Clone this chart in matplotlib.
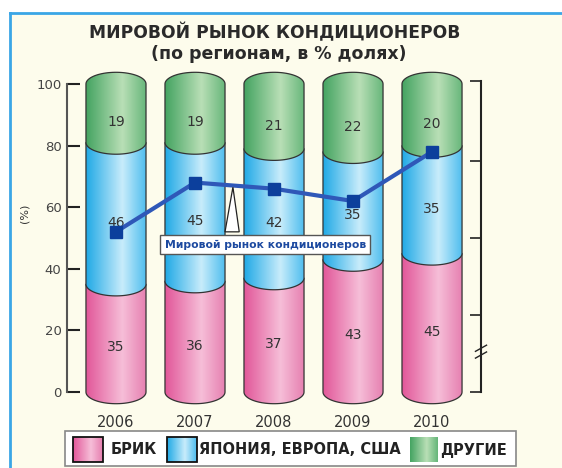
import matplotlib.pyplot as plt
from matplotlib.patches import Rectangle, Polygon, PathPatch
from matplotlib.path import Path
from matplotlib.colors import LinearSegmentedColormap
import numpy as np

# data
years = ['2006', '2007', '2008', '2009', '2010']
brik = [35, 36, 37, 43, 45]
jes = [46, 45, 42, 35, 35]
other = [19, 19, 21, 22, 20]
market = [52, 68, 66, 62, 78]   # world market line, read on the left scale
series_names = ['БРИК', 'ЯПОНИЯ, ЕВРОПА, США', 'ДРУГИЕ']
line_name = 'Мировой рынок кондиционеров'

# style
W, H = 562, 468
BG = '#fdfcec'
BORDER = '#3aa6e6'
grads = [
    ['#e2589a', '#f6bed8', '#e67fb0'],   # pink
    ['#22aae6', '#c8ecfb', '#4dbdee'],   # blue
    ['#45a462', '#b9dfb6', '#66b67a'],   # green
]
EDGE = '#333333'
BAR_W = 0.38      # half width in data units
ELL_H = 3.8       # half height of the cylinder ellipse
FONT = 'DejaVu Sans'
Y0, Y1 = -6, 106  # axis range incl. room for cylinder caps
PPU = 3.08        # pixels per percent

fig = plt.figure(figsize=(W / 100, H / 100), dpi=100)
fig.patch.set_facecolor('white')


def px(x0, y0, x1, y1):
    # pixel box -> figure fraction [left, bottom, width, height]
    return [x0 / W, 1 - y1 / H, (x1 - x0) / W, (y1 - y0) / H]


# background panel
bg = fig.add_axes([0, 0, 1, 1], zorder=0)
bg.set_xlim(0, W)
bg.set_ylim(H, 0)
bg.axis('off')
bg.add_patch(Rectangle((10, 13), W - 10, H - 13, facecolor=BG, edgecolor='none'))
bg.plot([10, 10], [13, H], color=BORDER, lw=2)
bg.plot([10, W], [13, 13], color=BORDER, lw=2)
bg.text(275, 33, 'МИРОВОЙ РЫНОК КОНДИЦИОНЕРОВ', ha='center', va='center',
        fontsize=12.3, fontweight='bold', color='#2a2a2a', family=FONT)
bg.text(279, 54, '(по регионам, в % долях)', ha='center', va='center',
        fontsize=12.5, fontweight='bold', color='#2a2a2a', family=FONT)
bg.text(24, 213, '(%)', ha='center', va='center', rotation=90,
        fontsize=8, color='#333333', family=FONT)

# main axes: 0..100 maps to pixel 392..84, spine at x=67 and x=481
ax = fig.add_axes(px(67, 392 - Y1 * PPU, 481, 392 - Y0 * PPU), zorder=1)
ax.set_facecolor('none')


def cyl_path(c, yb, yt, top):
    t = np.linspace(0, np.pi, 40)
    verts = [(c - BAR_W, yb), (c - BAR_W, yt)]
    if top:
        verts += list(zip(c - BAR_W * np.cos(t), yt + ELL_H * np.sin(t)))
    verts += [(c + BAR_W, yt), (c + BAR_W, yb)]
    verts += list(zip(c + BAR_W * np.cos(t), yb - ELL_H * np.sin(t)))
    verts.append(verts[0])
    return Path(verts, closed=True)


layers = [brik, jes, other]
grad = np.linspace(0, 1, 64).reshape(1, -1)
z = 2
for i in range(len(years)):
    base = 0
    for k, vals in enumerate(layers):
        yb, yt = base, base + vals[i]
        top = k == len(layers) - 1
        path = cyl_path(i, yb, yt, top)
        cmap = LinearSegmentedColormap.from_list('g', [(0, grads[k][0]), (0.6, grads[k][1]), (1, grads[k][2])])
        im = ax.imshow(grad, cmap=cmap, aspect='auto', interpolation='bilinear',
                       extent=[i - BAR_W, i + BAR_W, yb - ELL_H, yt + ELL_H], zorder=z)
        clip = PathPatch(path, transform=ax.transData, facecolor='none', edgecolor='none')
        im.set_clip_path(clip)
        ax.add_patch(PathPatch(path, facecolor='none', edgecolor=EDGE, lw=0.9,
                               zorder=z + 0.1, clip_on=False))
        ax.text(i, (yb + yt) / 2 - 3, str(vals[i]), ha='center', va='center',
                fontsize=10, color='#333333', family=FONT, zorder=z + 0.2)
        base = yt
        z += 1

ax.set_xlim(-0.62, 4.62)
ax.set_ylim(Y0, Y1)

# world market line
ax.plot(range(len(years)), market, color='#2f58b8', lw=3, zorder=40,
        marker='s', markersize=9, markerfacecolor='#0c3f9c', markeredgecolor='#0c3f9c')

# callout
ax.add_patch(Polygon([(1.38, 52.0), (1.48, 66.5), (1.56, 52.0)], closed=True,
                     facecolor='white', edgecolor='#222222', lw=0.9, zorder=41))
ax.text(1.89, 47.8, line_name, ha='center', va='center', fontsize=7.8,
        fontweight='bold', color='#1d4aa0', family=FONT, zorder=42,
        bbox=dict(boxstyle='square,pad=0.4', facecolor='white', edgecolor='#555555', lw=1))

# left axis
ax.set_yticks([0, 20, 40, 60, 80, 100])
ax.tick_params(axis='y', direction='in', length=9, width=1.5, color='#222222',
               labelsize=9.5, labelcolor='#444444', pad=4)
ax.set_xticks(range(len(years)))
ax.set_xticklabels(years)
ax.tick_params(axis='x', length=0, labelsize=10.5, labelcolor='#333333', pad=3)
for lbl in ax.get_xticklabels() + ax.get_yticklabels():
    lbl.set_family(FONT)
for s in ['top', 'bottom', 'right']:
    ax.spines[s].set_visible(False)
ax.spines['left'].set_color('#555555')
ax.spines['left'].set_linewidth(1.5)
ax.spines['left'].set_bounds(0, 100)

# right axis (no labels)
ax2 = ax.twinx()
ax2.set_ylim(Y0, Y1)
ax2.set_yticks([0, 25, 50, 75, 101])
ax2.set_yticklabels([])
ax2.tick_params(axis='y', direction='in', length=8, width=1.2, color='#222222')
for s in ['top', 'bottom', 'left']:
    ax2.spines[s].set_visible(False)
ax2.spines['right'].set_color('#222222')
ax2.spines['right'].set_linewidth(1.5)
ax2.spines['right'].set_bounds(0, 101)
for dy in (0, 2.2):
    ax2.plot([4.55, 4.69], [11.0 + dy, 13.0 + dy], color='#222222', lw=1,
             clip_on=False, zorder=50)

# legend drawn by hand
lg = fig.add_axes([0, 0, 1, 1], zorder=3)
lg.set_xlim(0, W)
lg.set_ylim(H, 0)
lg.axis('off')
lg.add_patch(Rectangle((65, 431), 451, 35, facecolor='white', edgecolor='#888888', lw=1.2))
boxes = [(73, 103), (167, 197), (410, 438)]
text_x = [111, 199, 440]
for k, ((x0, x1), tx) in enumerate(zip(boxes, text_x)):
    cmap = LinearSegmentedColormap.from_list('g', [(0, grads[k][0]), (0.6, grads[k][1]), (1, grads[k][2])])
    lg.imshow(grad, cmap=cmap, aspect='auto', extent=[x0, x1, 462, 437], zorder=4)
    if k < 2:
        lg.add_patch(Rectangle((x0, 437), x1 - x0, 25, facecolor='none', edgecolor='#111111', lw=1.3, zorder=5))
    lg.text(tx, 450, series_names[k], ha='left', va='center', fontsize=10.5,
            fontweight='bold', color='#222222', family=FONT, zorder=6)
lg.set_xlim(0, W)
lg.set_ylim(H, 0)

fig.savefig('out.png', dpi=100)
